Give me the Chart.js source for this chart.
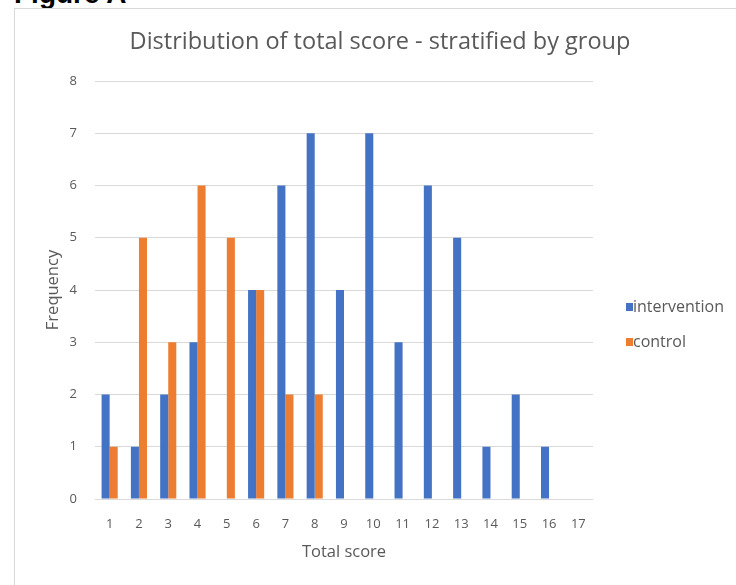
<!DOCTYPE html>
<html>
<head>
<meta charset="utf-8">
<script src="https://cdn.jsdelivr.net/npm/chart.js@4.4.1/dist/chart.umd.min.js"></script>
<style>
  body { margin: 0; background: #fff; overflow: hidden; }
  #fig { position: absolute; left: 14px; top: -19px; font: bold 28px "Liberation Sans", Arial, sans-serif; line-height: 26px; color: #000; }
  #frame { position: absolute; left: 14px; top: 8px; width: 900px; height: 700px; border: 1px solid #d9d9d9; }
  #myChart { position: absolute; left: 0; top: 0; }
</style>
</head>
<body>
<div id="fig">Figure A</div>
<div id="frame"></div>
<canvas id="myChart" width="736" height="585"></canvas>
<script>
var scores = ['1','2','3','4','5','6','7','8','9','10','11','12','13','14','15','16','17'];
var intervention = [2, 1, 2, 3, 0, 4, 6, 7, 4, 7, 3, 6, 5, 1, 2, 1, 0];
var control = [1, 5, 3, 6, 5, 4, 2, 2, 0, 0, 0, 0, 0, 0, 0, 0, 0];

var textGray = '#595959';
var gridGray = '#d9d9d9';

// legend drawn at the right, like the Excel original
var sideLegend = {
  id: 'sideLegend',
  afterDraw: function(chart) {
    var c = chart.ctx;
    var ys = [307, 342];
    c.save();
    c.font = '16px "Open Sans"';
    c.textBaseline = 'middle';
    c.textAlign = 'left';
    chart.data.datasets.forEach(function(ds, i) {
      c.fillStyle = ds.backgroundColor;
      c.fillRect(626, ys[i] - 4, 7, 8);
      c.fillStyle = textGray;
      c.fillText(ds.label, 633, ys[i]);
    });
    c.restore();
  }
};

var ctx = document.getElementById('myChart').getContext('2d');
var myChart = new Chart(ctx, {
  type: 'bar',
  data: {
    labels: scores,
    datasets: [{
      label: 'intervention',
      data: intervention,
      backgroundColor: '#4472C4',
      categoryPercentage: 0.55,
      barPercentage: 1.0
    }, {
      label: 'control',
      data: control,
      backgroundColor: '#ED7D31',
      categoryPercentage: 0.55,
      barPercentage: 1.0
    }]
  },
  options: {
    responsive: false,
    animation: false,
    layout: { padding: { left: 24, top: 0, right: 0, bottom: 0 } },
    plugins: {
      legend: { display: false },
      tooltip: { enabled: false },
      title: {
        display: true,
        text: 'Distribution of total score - stratified by group',
        color: textGray,
        font: { family: 'Open Sans', size: 23.5, weight: 'normal' },
        padding: { top: 28, bottom: 24.8 }
      }
    },
    scales: {
      x: {
        grid: { display: false, drawTicks: false },
        border: { display: false },
        ticks: { color: textGray, font: { family: 'Open Sans', size: 13 }, padding: 17, maxRotation: 0 },
        title: { display: true, text: 'Total score', color: textGray, font: { family: 'Open Sans', size: 16.5 }, padding: { top: 0, bottom: 23 } },
        afterFit: function(s) { s.height = 86; }
      },
      y: {
        min: 0,
        max: 8,
        ticks: { stepSize: 1, color: textGray, font: { family: 'Open Sans', size: 13 }, padding: 18 },
        grid: { color: gridGray, drawTicks: false },
        border: { display: false },
        title: { display: true, text: 'Frequency', color: textGray, font: { family: 'Open Sans', size: 16.5 }, padding: { top: 19, bottom: 0 } },
        afterFit: function(s) { s.width = 71; }
      },
      spare: {
        position: 'right',
        display: true,
        grid: { display: false, drawTicks: false },
        border: { display: false },
        ticks: { display: false },
        afterFit: function(s) { s.width = 143; }
      }
    }
  },
  plugins: [sideLegend]
});
</script>
</body>
</html>
